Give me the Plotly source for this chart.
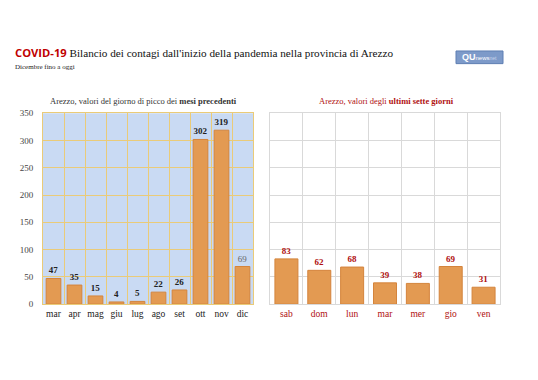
import plotly.graph_objects as go

months = ["mar", "apr", "mag", "giu", "lug", "ago", "set", "ott", "nov", "dic"]
month_vals = [47, 35, 15, 4, 5, 22, 26, 302, 319, 69]
days = ["sab", "dom", "lun", "mar", "mer", "gio", "ven"]
day_vals = [83, 62, 68, 39, 38, 69, 31]
y_ticks = [0, 50, 100, 150, 200, 250, 300, 350]

SERIF = "Liberation Serif"
BAR = "#E39A52"
BAR_LINE = "#D4843C"
RED = "#B01010"
GOLD = "#EACB78"

W, H = 538, 380
OFF = 8  # page body margin

def px(x):
    return (x - OFF) / W

def py(y):
    return 1 - (y - OFF) / H

left_text = ["<b>%d</b>" % v for v in month_vals]
left_text[-1] = "%d" % month_vals[-1]
left_colors = ["#222222"] * len(month_vals)
left_colors[-1] = "#666666"

fig = go.Figure()
fig.add_trace(go.Bar(
    x=months, y=month_vals, text=left_text, textposition="outside",
    textfont=dict(family=SERIF, size=9, color=left_colors),
    marker=dict(color=BAR, line=dict(color=BAR_LINE, width=1)),
    cliponaxis=False, xaxis="x", yaxis="y", showlegend=False,
))
fig.add_trace(go.Bar(
    x=days, y=day_vals, text=["<b>%d</b>" % v for v in day_vals], textposition="outside",
    textfont=dict(family=SERIF, size=9, color=RED),
    marker=dict(color=BAR, line=dict(color=BAR_LINE, width=1)),
    cliponaxis=False, xaxis="x2", yaxis="y2", showlegend=False,
))

y0, y1 = py(307), py(111)

fig.update_layout(
    width=W, height=H,
    margin=dict(l=0, r=0, t=0, b=0),
    paper_bgcolor="white",
    plot_bgcolor="white",
    bargap=0.3,
    font=dict(family=SERIF, size=9, color="#333333"),
    xaxis=dict(domain=[px(43), px(253)], type="category", tickson="boundaries",
               showgrid=True, gridcolor=GOLD, gridwidth=1, showline=True, mirror=True,
               linecolor=GOLD, ticks="outside", ticklen=5, tickcolor="rgba(0,0,0,0)",
               tickangle=0, tickfont=dict(family=SERIF, size=9.5, color="#222222")),
    yaxis=dict(domain=[y0, y1], range=[0, 350], tickvals=y_ticks, showgrid=True,
               gridcolor=GOLD, gridwidth=1, showline=True, mirror=True, linecolor=GOLD,
               zeroline=False, ticks="outside", ticklen=7, tickcolor="rgba(0,0,0,0)",
               tickfont=dict(family=SERIF, size=9, color="#444444")),
    xaxis2=dict(domain=[px(270), px(500)], type="category", tickson="boundaries",
                showgrid=True, gridcolor="#D9D9D9", gridwidth=1, showline=True, mirror=True,
                linecolor="#D9D9D9", ticks="outside", ticklen=5, tickcolor="rgba(0,0,0,0)",
                tickangle=0, tickfont=dict(family=SERIF, size=9.5, color=RED), anchor="y2"),
    yaxis2=dict(domain=[y0, y1], range=[0, 350], tickvals=y_ticks, showgrid=True,
                gridcolor="#D9D9D9", showline=True, mirror=True, linecolor="#D9D9D9",
                zeroline=False, showticklabels=False, ticks="", anchor="x2"),
    shapes=[
        dict(type="rect", xref="x domain", yref="y domain", x0=0, x1=1, y0=0, y1=1,
             fillcolor="#C9DAF3", line=dict(width=0), layer="below"),
        dict(type="rect", xref="paper", yref="paper", x0=px(456), x1=px(503),
             y0=py(60), y1=py(47), fillcolor="#7D9AC9", line=dict(color="#5F7FB3", width=1)),
    ],
    annotations=[
        dict(xref="paper", yref="paper", x=px(13), y=py(49), xanchor="left", yanchor="middle",
             showarrow=False,
             text="<span style='font-family:Open Sans;color:#C00000'><b>COVID-19</b></span> Bilancio dei contagi dall'inizio della pandemia nella provincia di Arezzo",
             font=dict(family=SERIF, size=11.2, color="#111111")),
        dict(xref="paper", yref="paper", x=px(13), y=py(63), xanchor="left", yanchor="middle",
             showarrow=False, text="Dicembre fino a oggi",
             font=dict(family=SERIF, size=7, color="#222222")),
        dict(xref="paper", yref="paper", x=px(143), y=py(98), xanchor="center", yanchor="middle",
             showarrow=False, text="Arezzo, valori del giorno di picco dei <b>mesi precedenti</b>",
             font=dict(family=SERIF, size=8.5, color="#333333")),
        dict(xref="paper", yref="paper", x=px(386), y=py(98), xanchor="center", yanchor="middle",
             showarrow=False, text="Arezzo, valori degli <b>ultimi sette giorni</b>",
             font=dict(family=SERIF, size=8.5, color=RED)),
        dict(xref="paper", yref="paper", x=px(479.5), y=py(53.5), xanchor="center", yanchor="middle",
             showarrow=False,
             text="<b>QU</b><span style='font-size:6px'>news</span><span style='font-size:5px;color:#C9D5EC'>net</span>",
             font=dict(family="Liberation Sans", size=9, color="white")),
    ],
)

fig.write_html("out.html")
